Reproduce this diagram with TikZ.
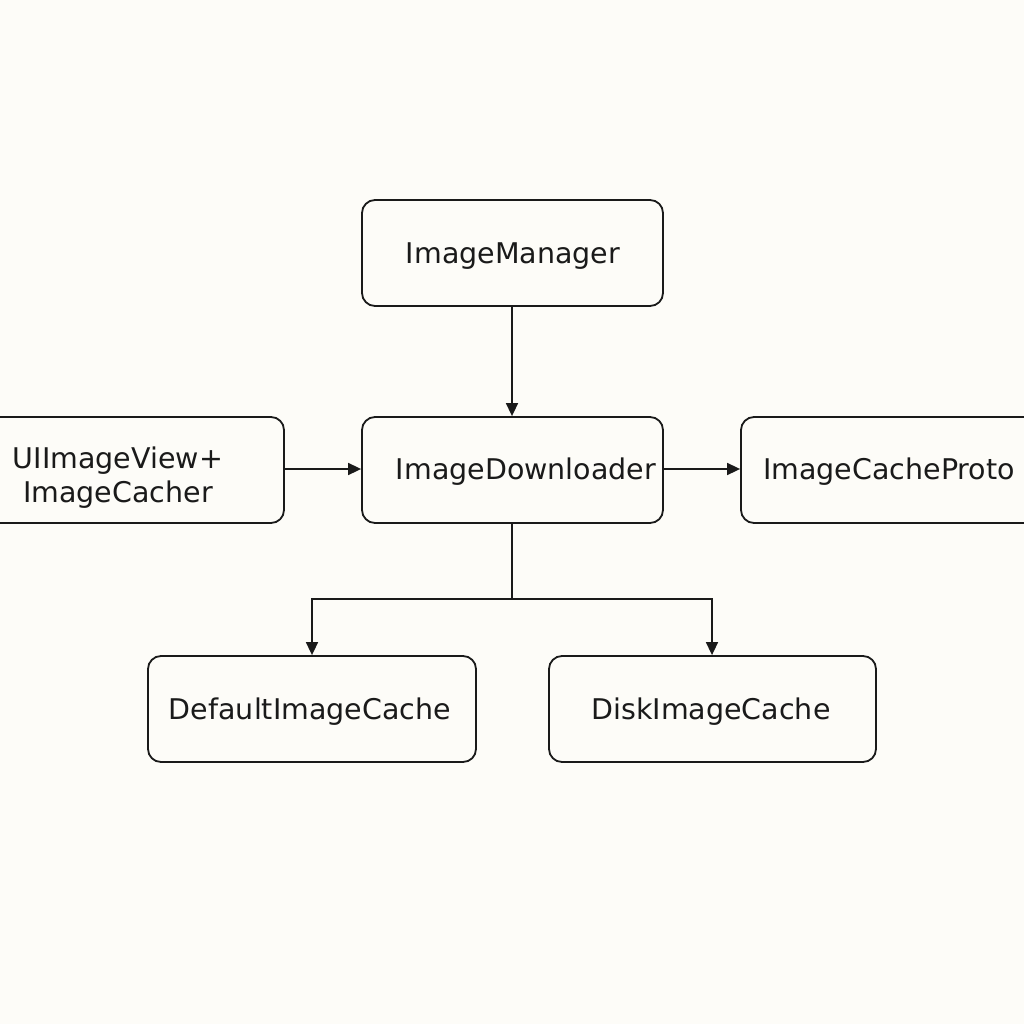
\documentclass[tikz,border=0pt]{standalone}
\usepackage{fontspec}
\setmainfont{DejaVu Sans}
\usetikzlibrary{arrows.meta}
\definecolor{bg}{HTML}{FDFCF8}
\definecolor{ink}{HTML}{1A1A1A}
\begin{document}
\begin{tikzpicture}[x=1pt,y=-1pt,
  box/.style={draw=ink,line width=1.8pt,rounded corners=13pt,inner sep=0pt,fill=bg},
  lbl/.style={text=ink,font=\fontsize{28.5}{34}\selectfont,inner sep=0pt,align=center},
  arr/.style={draw=ink,line width=1.6pt,-{Triangle[length=13pt,width=12pt]}},
  ln/.style={draw=ink,line width=1.6pt}]
\fill[bg] (0,0) rectangle (1024,1024);
\useasboundingbox (0,0) rectangle (1024,1024);
\node[box,minimum width=301pt,minimum height=106pt] (mgr) at (512.5,253) {};
\node[lbl] (mgrt) at (513,256) {ImageManager};
\node[box,minimum width=301pt,minimum height=106pt] (dl) at (512.5,470) {};
\node[lbl] (dlt) at (526,472) {ImageDownloader};
\node[box,minimum width=310pt,minimum height=106pt] (ui) at (129,470) {};
\node[lbl] (uit) at (118,478) {UIImageView+\\ImageCacher};
\node[box,minimum width=320pt,minimum height=106pt] (cp) at (901,470) {};
\node[lbl,anchor=west] (cpt) at (763,472) {ImageCacheProto};
\node[box,minimum width=328pt,minimum height=106pt] (dc) at (312,709) {};
\node[lbl] (dct) at (310,712) {DefaultImageCache};
\node[box,minimum width=327pt,minimum height=106pt] (kc) at (712.5,709) {};
\node[lbl] (kct) at (711,712) {DiskImageCache};
\coordinate (j) at (512,599);
\draw[arr] (mgr.south -| 512,0) -- (dl.north -| 512,0);
\draw[arr] (ui.east |- 0,469) -- (dl.west |- 0,469);
\draw[arr] (dl.east |- 0,469) -- (cp.west |- 0,469);
\draw[ln] (dl.south -| j) -- (j);
\draw[arr] (j) -| (dc.north -| 312,0);
\draw[arr] (j) -| (kc.north -| 712,0);
\end{tikzpicture}
\end{document}
